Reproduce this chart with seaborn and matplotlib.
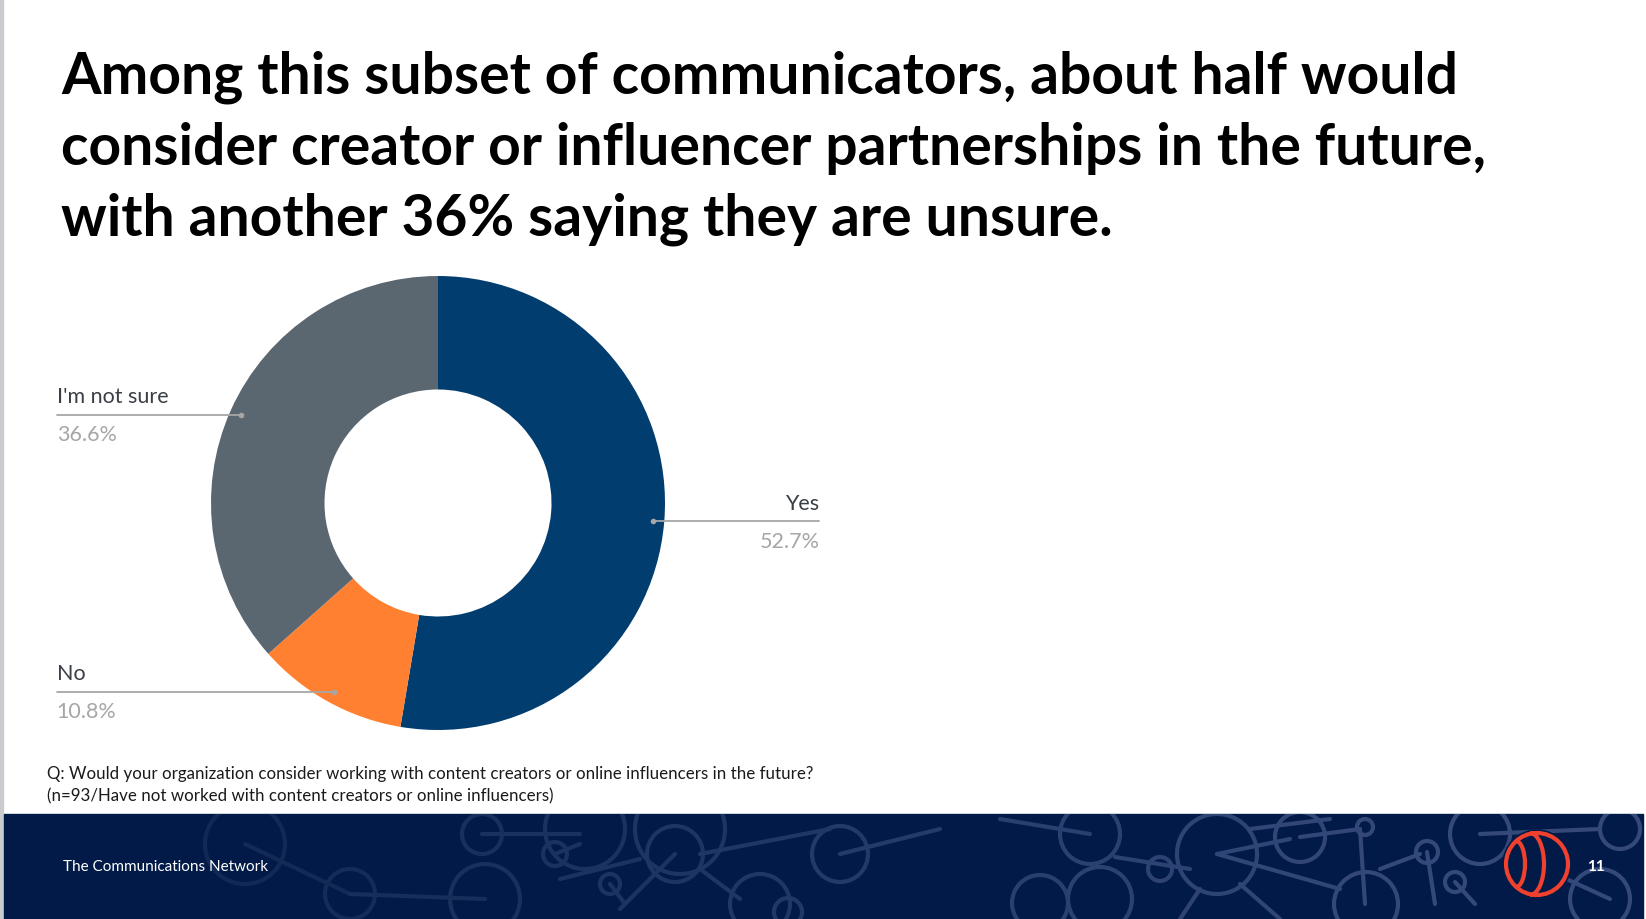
import numpy as np
import matplotlib
matplotlib.use("Agg")
import matplotlib.pyplot as plt
import seaborn as sns
from matplotlib.patches import Circle, Arc, Rectangle
from matplotlib.colors import to_rgb

# ---- data ----
categories = ["Yes", "No", "I'm not sure"]
values = [52.7, 10.8, 36.6]
value_labels = ["52.7%", "10.8%", "36.6%"]
colors = ["#013D6F", "#FF8031", "#5B6770"]

title_lines = [
    "Among this subset of communicators, about half would",
    "consider creator or influencer partnerships in the future,",
    "with another 36% saying they are unsure.",
]
note_lines = [
    "Q: Would your organization consider working with content creators or online influencers in the future?",
    "(n=93/Have not worked with content creators or online influencers)",
]
footer_text = "The Communications Network"
page_no = "11"

sns.set_theme(style="white")
plt.rcParams["font.family"] = ["Lato", "DejaVu Sans"]

W, H = 1646, 920
fig = plt.figure(figsize=(W / 100, H / 100), dpi=100)
fig.patch.set_facecolor("white")

def fx(x):
    return x / W

def fy(y):
    return 1 - y / H

# background layer axes in pixel coords
bg = fig.add_axes([0, 0, 1, 1])
bg.set_xlim(0, W)
bg.set_ylim(H, 0)
bg.axis("off")
bg.add_patch(Rectangle((0, 0), 3, H, color="#C9CBCE", zorder=1))
bg.add_patch(Rectangle((4, 815), 1639, 105, color="#021A47", zorder=1))

# faint network decoration in the footer (fades in towards the right)
c0, c1 = np.array(to_rgb("#0C2550")), np.array(to_rgb("#34497A"))
def deco(x):
    t = np.clip((x - 100) / 1300, 0, 1)
    return tuple(c0 + (c1 - c0) * t)

clip = Rectangle((4, 815), 1639, 105, transform=bg.transData)
circ = [(245, 845, 40), (350, 895, 25), (482, 835, 20), (485, 900, 35), (555, 855, 12),
        (585, 830, 40), (610, 885, 10), (680, 830, 45), (675, 855, 28), (760, 905, 30),
        (788, 913, 14), (840, 855, 28), (1090, 835, 30), (1160, 870, 12), (1217, 855, 40),
        (1300, 838, 25), (1365, 828, 8), (1366, 905, 32), (1427, 853, 11), (1455, 883, 10),
        (1480, 835, 30), (1600, 900, 30), (1100, 900, 32), (1040, 904, 28), (1620, 830, 20)]
for (cx, cy, r) in circ:
    c = Circle((cx, cy), r, fill=False, ec=deco(cx), lw=3, zorder=2)
    bg.add_patch(c)
    c.set_clip_path(clip)
segs = [((245, 845), (350, 895)), ((350, 895), (485, 900)), ((482, 835), (580, 835)),
        ((555, 855), (580, 845)), ((560, 880), (640, 860)), ((610, 885), (625, 905)),
        ((675, 855), (620, 910)), ((700, 855), (830, 830)), ((700, 870), (740, 900)),
        ((840, 855), (940, 830)), ((1090, 835), (1000, 820)), ((1115, 858), (1190, 870)),
        ((1217, 855), (1290, 840)), ((1250, 830), (1330, 820)), ((1217, 855), (1340, 890)),
        ((1300, 838), (1360, 830)), ((1360, 830), (1365, 905)), ((1380, 870), (1420, 855)),
        ((1427, 853), (1435, 905)), ((1455, 883), (1475, 905)), ((1480, 835), (1600, 830)),
        ((1536, 866), (1610, 900)), ((1200, 890), (1180, 920)), ((1240, 885), (1280, 920))]
for (a, b) in segs:
    ln, = bg.plot([a[0], b[0]], [a[1], b[1]], color=deco((a[0] + b[0]) / 2), lw=3, zorder=2)
    ln.set_clip_path(clip)

# logo
red = "#F0402E"
bg.add_patch(Circle((1537, 865), 34, color="#021A47", zorder=3))
bg.add_patch(Circle((1537, 865), 31, fill=False, ec=red, lw=3.0, zorder=4))
bg.add_patch(Arc((1530, 865), 28, 62, theta1=-90, theta2=90, ec=red, lw=3.0, zorder=4))
bg.add_patch(Arc((1516, 865), 18, 46, theta1=-90, theta2=90, ec=red, lw=3.0, zorder=4))

# title
for i, line in enumerate(title_lines):
    fig.text(fx(61), fy(94 + i * 71), line, fontsize=41, fontweight="bold",
             color="black", va="baseline", ha="left")

# footnote
for i, line in enumerate(note_lines):
    fig.text(fx(47), fy(779 + i * 22), line, fontsize=12.2, color="#1A1A1A",
             va="baseline", ha="left")

fig.text(fx(63), fy(871), footer_text, fontsize=11, color="white", va="baseline", ha="left")
fig.text(fx(1596), fy(871), page_no, fontsize=11, color="white", fontweight="bold",
         va="baseline", ha="center")

# donut
cx, cy, R = 438, 504, 227
ax = fig.add_axes([fx(cx - R), fy(cy + R), 2 * R / W, 2 * R / H])
wedges, _ = ax.pie(values, colors=colors, startangle=90, counterclock=False,
                   radius=1, wedgeprops=dict(width=0.5, linewidth=0))
ax.set_xlim(-1, 1)
ax.set_ylim(-1, 1)
ax.set_aspect("equal")
ax.axis("off")

label_x = 1.68
for w, cat, vl in zip(wedges, categories, value_labels):
    mid = np.deg2rad((w.theta1 + w.theta2) / 2)
    dx, dy = 0.95 * np.cos(mid), 0.95 * np.sin(mid)
    side = 1 if dx > 0 else -1
    ex = side * label_x
    ax.plot([dx, ex], [dy, dy], color="#A6A6A6", lw=1.3, clip_on=False, zorder=5)
    ax.plot([dx], [dy], "o", color="#A6A6A6", ms=3, clip_on=False, zorder=6)
    ha = "left" if side < 0 else "right"
    ax.annotate(cat, (ex, dy), xytext=(0, 6), textcoords="offset points",
                ha=ha, va="bottom", fontsize=15.5, color="#3A3F45", annotation_clip=False)
    ax.annotate(vl, (ex, dy), xytext=(0, -7), textcoords="offset points",
                ha=ha, va="top", fontsize=15.5, color="#A6A6A6", annotation_clip=False)

fig.savefig("out.png", dpi=100, facecolor="white")
